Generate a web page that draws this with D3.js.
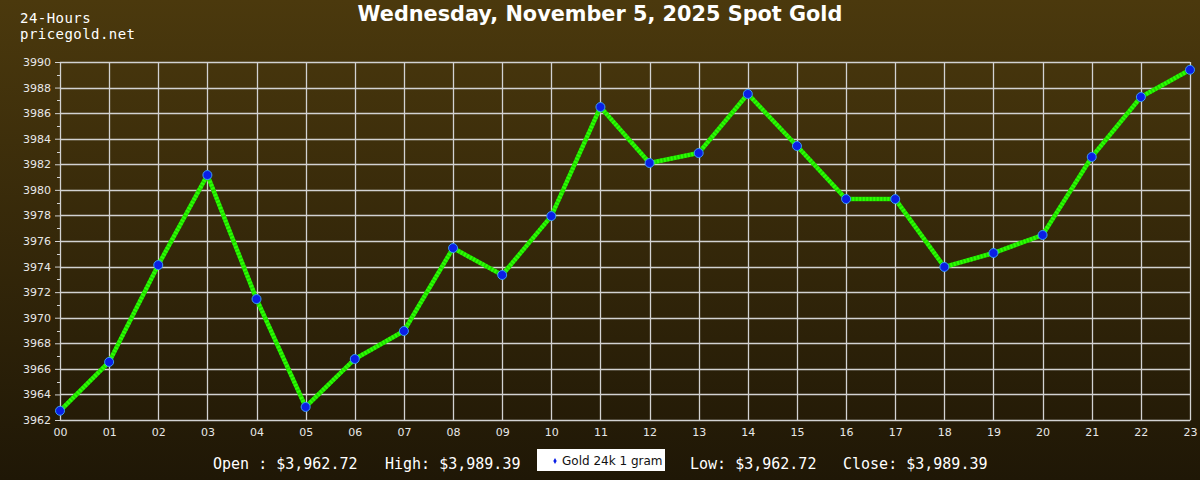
<!DOCTYPE html>
<html><head><meta charset="utf-8">
<script src="https://cdn.jsdelivr.net/npm/d3@7/dist/d3.min.js"></script>
<style>html,body{margin:0;padding:0;background:#201706;}svg{display:block;}</style>
</head><body>
<svg id="c" width="1200" height="480"></svg>
<script>
const hours = ["00","01","02","03","04","05","06","07","08","09","10","11","12","13","14","15","16","17","18","19","20","21","22","23"];
const prices = [3962.72,3966.54,3974.12,3981.16,3971.46,3963.02,3966.77,3968.96,3975.45,3973.34,3977.95,3986.48,3982.10,3982.88,3987.50,3983.43,3979.28,3979.28,3973.97,3975.06,3976.47,3982.57,3987.26,3989.39];
const yTicks = [3962,3964,3966,3968,3970,3972,3974,3976,3978,3980,3982,3984,3986,3988,3990];
const yMinor = [3963,3965,3967,3969,3971,3973,3975,3977,3979,3981,3983,3985,3987,3989];
const titleText = "Wednesday, November 5, 2025 Spot Gold";
const brandLines = ["24-Hours","pricegold.net"];
const statsText = [["Open : $3,962.72",213],["High: $3,989.39",385],["Low: $3,962.72",690],["Close: $3,989.39",843]];
const legendLabel = "Gold 24k 1 gram";

const svg = d3.select("#c");
const defs = svg.append("defs");
const g = defs.append("linearGradient").attr("id","bg").attr("x1",0).attr("y1",0).attr("x2",0).attr("y2",1);
g.append("stop").attr("offset","0%").attr("stop-color","#4b390d");
g.append("stop").attr("offset","100%").attr("stop-color","#1f1706");
svg.append("rect").attr("width",1200).attr("height",480).attr("fill","url(#bg)");

const x = d3.scalePoint().domain(hours).range([60,1190]);
const y = d3.scaleLinear().domain([3962,3990]).range([420,62]);

// grid
svg.append("g").selectAll("line").data(yTicks).join("line")
  .attr("x1",60).attr("x2",1190).attr("y1",d=>Math.round(y(d))+0.5).attr("y2",d=>Math.round(y(d))+0.5)
  .attr("stroke","#d2d2d2").attr("stroke-width",1.3);
svg.append("g").selectAll("line").data(hours).join("line")
  .attr("x1",d=>Math.round(x(d))+0.5).attr("x2",d=>Math.round(x(d))+0.5).attr("y1",62).attr("y2",420)
  .attr("stroke","#d2d2d2").attr("stroke-width",1.3);

// y axis
const ya = svg.append("g").attr("transform","translate(60,0)")
  .call(d3.axisLeft(y).tickValues(yTicks).tickSize(5).tickPadding(4).tickFormat(d3.format("d")));
ya.select(".domain").attr("stroke","#d2d2d2");
ya.selectAll(".tick line").attr("stroke","#d2d2d2");
ya.selectAll("text").attr("fill","#e8e8e8").attr("font-family","DejaVu Sans").attr("font-size",11);
svg.append("g").selectAll("line").data(yMinor).join("line")
  .attr("x1",57).attr("x2",60).attr("y1",d=>Math.round(y(d))+0.5).attr("y2",d=>Math.round(y(d))+0.5)
  .attr("stroke","#d2d2d2");

// x axis
const xa = svg.append("g").attr("transform","translate(0,420)")
  .call(d3.axisBottom(x).tickSize(0).tickPadding(8));
xa.select(".domain").attr("stroke","#d2d2d2");
xa.selectAll("text").attr("fill","#e8e8e8").attr("font-family","DejaVu Sans").attr("font-size",11);

// line
const line = d3.line().x((d,i)=>x(hours[i])).y(d=>y(d));
svg.append("path").datum(prices).attr("d",line).attr("fill","none")
  .attr("stroke","#1fd400").attr("stroke-width",4.5);
svg.append("path").datum(prices).attr("d",line).attr("fill","none")
  .attr("stroke","#2cff00").attr("stroke-width",4).attr("stroke-dasharray","2,1.5");

// points
svg.append("g").selectAll("circle").data(prices).join("circle")
  .attr("cx",(d,i)=>x(hours[i])).attr("cy",d=>y(d)).attr("r",4.5)
  .attr("fill","#0a1ee6").attr("stroke","#3a9cf0").attr("stroke-width",1);

// title
svg.append("text").attr("x",600).attr("y",21).attr("text-anchor","middle")
  .attr("font-family","DejaVu Sans").attr("font-weight","bold").attr("font-size",20.8)
  .attr("fill","#ffffff").text(titleText);

// brand
brandLines.forEach((t,i)=>svg.append("text").attr("x",20).attr("y",22.5+i*16.5)
  .attr("font-family","DejaVu Sans Mono").attr("font-size",14).attr("letter-spacing",0.45)
  .attr("fill","#ffffff").text(t));

// stats
statsText.forEach(([t,px])=>svg.append("text").attr("x",px).attr("y",469)
  .attr("font-family","DejaVu Sans Mono").attr("font-size",15).attr("fill","#ffffff").text(t));

// legend
svg.append("rect").attr("x",537).attr("y",449).attr("width",128).attr("height",22).attr("fill","#ffffff");
svg.append("path").attr("d",d3.symbol(d3.symbolDiamond,10)()).attr("transform","translate(555,461)")
  .attr("fill","#0a1ee6");
svg.append("text").attr("x",562).attr("y",464.5).attr("font-family","DejaVu Sans").attr("font-size",12)
  .attr("fill","#111").text(legendLabel);
</script>
</body></html>
